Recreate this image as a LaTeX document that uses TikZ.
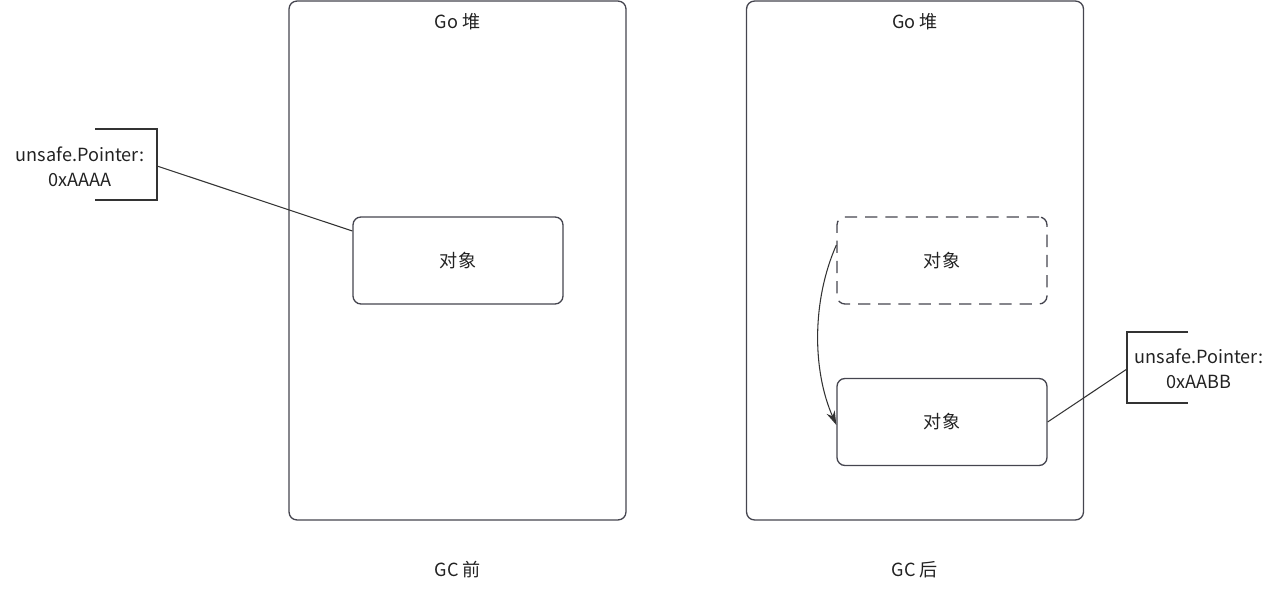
\documentclass[tikz,border=0pt]{standalone}
\usepackage{fontspec}
\setmainfont{Noto Sans CJK SC}
\usetikzlibrary{arrows.meta, positioning}
\definecolor{EdgeGray}{HTML}{45454F}
\definecolor{LineGray}{HTML}{333333}
\definecolor{TextGray}{HTML}{222222}

\tikzset{
  heapbox/.style={draw=EdgeGray,line width=0.75pt,rounded corners=4.5pt,
                  minimum width=6.74cm,minimum height=10.38cm},
  objbox/.style={draw=EdgeGray,line width=0.75pt,rounded corners=4.5pt,
                 minimum width=4.2cm,minimum height=1.74cm,
                 font=\fontsize{10.3}{13}\selectfont,text=TextGray},
  ghostbox/.style={objbox,dash pattern=on 7pt off 4.5pt},
  lbl/.style={font=\fontsize{10.3}{14}\selectfont,text=TextGray,align=center,inner sep=0pt},
  bracket/.style={draw=LineGray,line width=0.75pt},
  link/.style={draw=LineGray,line width=0.6pt},
}

\begin{document}
\begin{tikzpicture}[x=0.02cm,y=-0.02cm]
\useasboundingbox (0,0) rectangle (1286,590);

% heaps
\node[heapbox] (heapA) at (457.5,260.5) {};
\node[heapbox] (heapB) at (915,260.5) {};
\node[lbl,below=12pt of heapA.north,anchor=center] (titleA) {Go 堆};
\node[lbl,below=12pt of heapB.north,anchor=center] (titleB) {Go 堆};

% objects
\node[objbox] (objA) at (458,260.5) {对象};
\node[ghostbox] (objOld) at (942,260.5) {对象};
\node[objbox] (objNew) at (942,422) {对象};

% pointers
\node[lbl] (ptrA) at (80,167) {unsafe.Pointer:\\0xAAAA};
\node[lbl] (ptrB) at (1199,369) {unsafe.Pointer:\\0xAABB};
\coordinate (ptrAend) at (157,166);
\coordinate (ptrBend) at (1127,369);
\draw[bracket] (95,129) -- (157,129) -- (157,200) -- (95,200);
\draw[bracket] (1188,332) -- (1127,332) -- (1127,403) -- (1188,403);

\draw[link] (ptrAend) -- (objA.west |- 0,231);
\draw[link] (ptrBend) -- (objNew.east);

% move
\draw[link,-{Stealth[length=8pt,width=5pt]}]
  (objOld.west |- 0,245) .. controls (812,300) and (812,370) .. (objNew.west |- 0,425);

% captions
\node[lbl] (capA) at (458,570) {GC 前};
\node[lbl] (capB) at (915,570) {GC 后};
\end{tikzpicture}
\end{document}
